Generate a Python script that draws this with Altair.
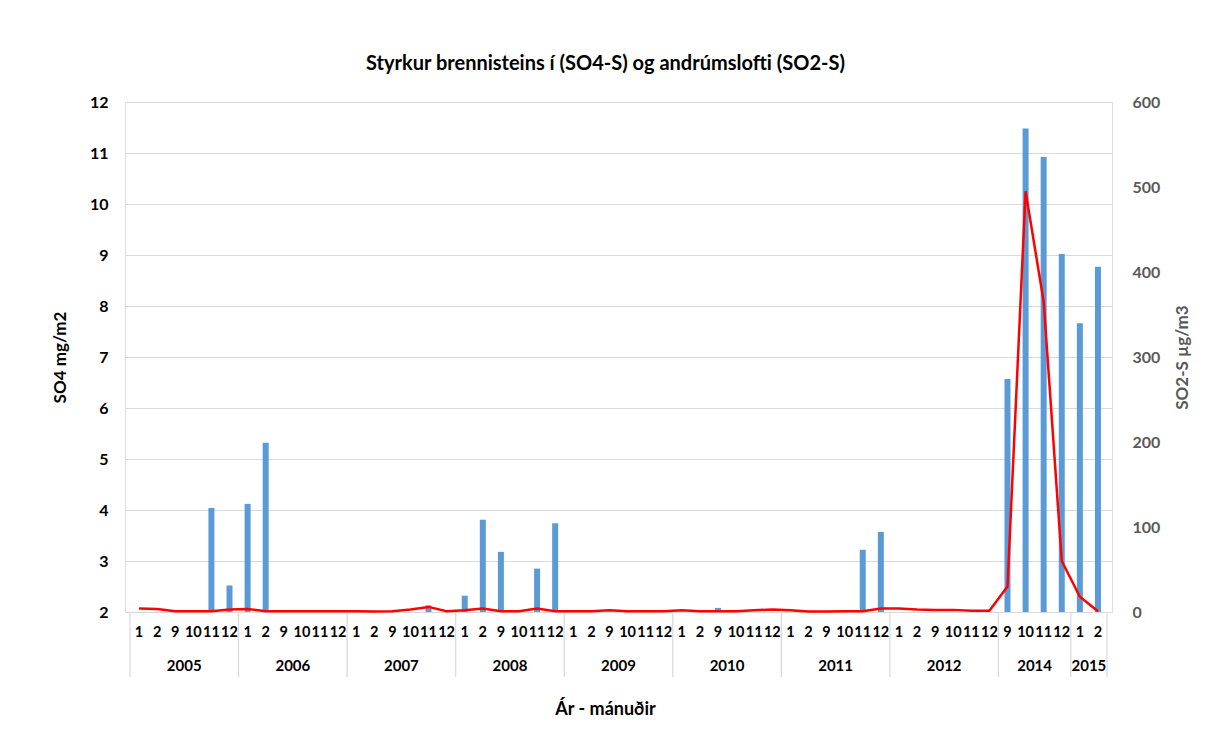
import altair as alt
import pandas as pd

years = ["2005", "2006", "2007", "2008", "2009", "2010", "2011", "2012", "2014", "2015"]
months_per_year = [
    [1, 2, 9, 10, 11, 12],
    [1, 2, 9, 10, 11, 12],
    [1, 2, 9, 10, 11, 12],
    [1, 2, 9, 10, 11, 12],
    [1, 2, 9, 10, 11, 12],
    [1, 2, 9, 10, 11, 12],
    [1, 2, 9, 10, 11, 12],
    [1, 2, 9, 10, 11, 12],
    [9, 10, 11, 12],
    [1, 2],
]
so4 = [
    [None, None, None, None, 4.04, 2.52],
    [4.12, 5.32, None, None, None, None],
    [None, None, None, None, 2.13, None],
    [2.32, 3.81, 3.18, None, 2.85, 3.74],
    [None, None, None, None, None, None],
    [None, None, 2.08, None, None, None],
    [None, None, None, None, 3.22, 3.57],
    [None, None, None, None, None, None],
    [6.57, 11.48, 10.92, 9.02],
    [7.66, 8.77],
]
so2 = [
    [4, 3.5, 1, 1, 1, 3],
    [3.5, 1, 1, 1, 1, 1],
    [1, 0.5, 1, 3, 6, 1],
    [2, 4, 1, 1, 4, 1],
    [1, 1, 2, 1, 1, 1],
    [2, 1, 1, 1, 2, 3],
    [2, 0.5, 0.5, 1, 1, 4],
    [4, 3, 2.5, 2.5, 1.5, 1.5],
    [30, 495, 365, 60],
    [18, 1],
]
x_title = "Ár - mánuðir"

rows = []
year_rows = []
sep_rows = [{"b": -0.5}]
idx = 0
for y, ms, s4, s2 in zip(years, months_per_year, so4, so2):
    start = idx
    for m, a, b in zip(ms, s4, s2):
        rows.append({"idx": idx, "year": y, "month": str(m), "SO4": a, "SO2": b})
        idx += 1
    year_rows.append({"year": y, "center": (start + idx - 1) / 2})
    sep_rows.append({"b": idx - 0.5})

df = pd.DataFrame(rows)
ydf = pd.DataFrame(year_rows)
sdf = pd.DataFrame(sep_rows)
tdf = pd.DataFrame([{"t": x_title}])
n = len(df)

FONT = "Lato"
W, H = 987, 510
xscale = alt.Scale(domain=[-0.5, n - 0.5], nice=False, zero=False)

bars = alt.Chart(df).mark_bar(size=6, color="#5B9BD5").encode(
    x=alt.X("idx:Q", scale=xscale, axis=None),
    y=alt.Y("SO4:Q", scale=alt.Scale(domain=[2, 12], zero=False, nice=False),
            axis=alt.Axis(orient="left", values=list(range(2, 13)), ticks=False,
                          domain=False, grid=True, gridColor="#D9D9D9", gridWidth=1.2,
                          labelFont=FONT, labelFontSize=16, labelFontWeight="bold",
                          labelColor="#000000", labelPadding=17,
                          title="SO4 mg/m2", titleFont=FONT, titleFontSize=17,
                          titleFontWeight="bold", titleColor="#000000",
                          titleAngle=-90, titleX=-65, titleY=H / 2,
                          titleAlign="center", titleBaseline="middle")),
    y2=alt.datum(2),
)

line = alt.Chart(df).mark_line(color="#FF0000", strokeWidth=2.5).encode(
    x=alt.X("idx:Q", scale=xscale, axis=None),
    y=alt.Y("SO2:Q", scale=alt.Scale(domain=[0, 600], nice=False),
            axis=alt.Axis(orient="right", values=list(range(0, 601, 100)), ticks=False,
                          domain=False, grid=False,
                          labelFont=FONT, labelFontSize=16, labelFontWeight="bold",
                          labelColor="#595959", labelPadding=20,
                          title="SO2-S µg/m3", titleFont=FONT, titleFontSize=17,
                          titleFontWeight="bold", titleColor="#595959",
                          titleAngle=-90, titleX=70, titleY=H / 2,
                          titleAlign="center", titleBaseline="middle")),
)

month_text = alt.Chart(df).mark_text(font=FONT, fontSize=14.5, fontWeight="bold",
                                     color="#000000", baseline="middle").encode(
    x=alt.X("idx:Q", scale=xscale, axis=None),
    y=alt.value(H + 21),
    text="month:N",
)

year_text = alt.Chart(ydf).mark_text(font=FONT, fontSize=15, fontWeight="bold",
                                     color="#000000", baseline="middle").encode(
    x=alt.X("center:Q", scale=xscale, axis=None),
    y=alt.value(H + 54),
    text="year:N",
)

seps = alt.Chart(sdf).mark_rule(color="#D9D9D9", strokeWidth=1.2).encode(
    x=alt.X("b:Q", scale=xscale, axis=None),
    y=alt.value(H),
    y2=alt.value(H + 65),
)

xtitle = alt.Chart(tdf).mark_text(font=FONT, fontSize=18, fontWeight="bold",
                                  color="#000000", baseline="middle", align="center").encode(
    x=alt.value(W / 2 - 13),
    y=alt.value(H + 98),
    text="t:N",
)

left = alt.layer(bars, seps, month_text, year_text, xtitle)
chart = alt.layer(left, line).resolve_scale(y="independent").properties(
    width=W, height=H,
    autosize=alt.AutoSizeParams(type="none"),
    padding={"left": 117, "top": 94, "right": 93, "bottom": 127},
    title=alt.TitleParams("Styrkur brennisteins í (SO4-S) og andrúmslofti (SO2-S)",
                          font=FONT, fontSize=20, fontWeight="bold", color="#000000",
                          anchor="middle", offset=20, dx=-13),
).configure_view(stroke=None).configure(background="white")

chart.save("out.html", embed_options={"renderer": "svg", "actions": False})
